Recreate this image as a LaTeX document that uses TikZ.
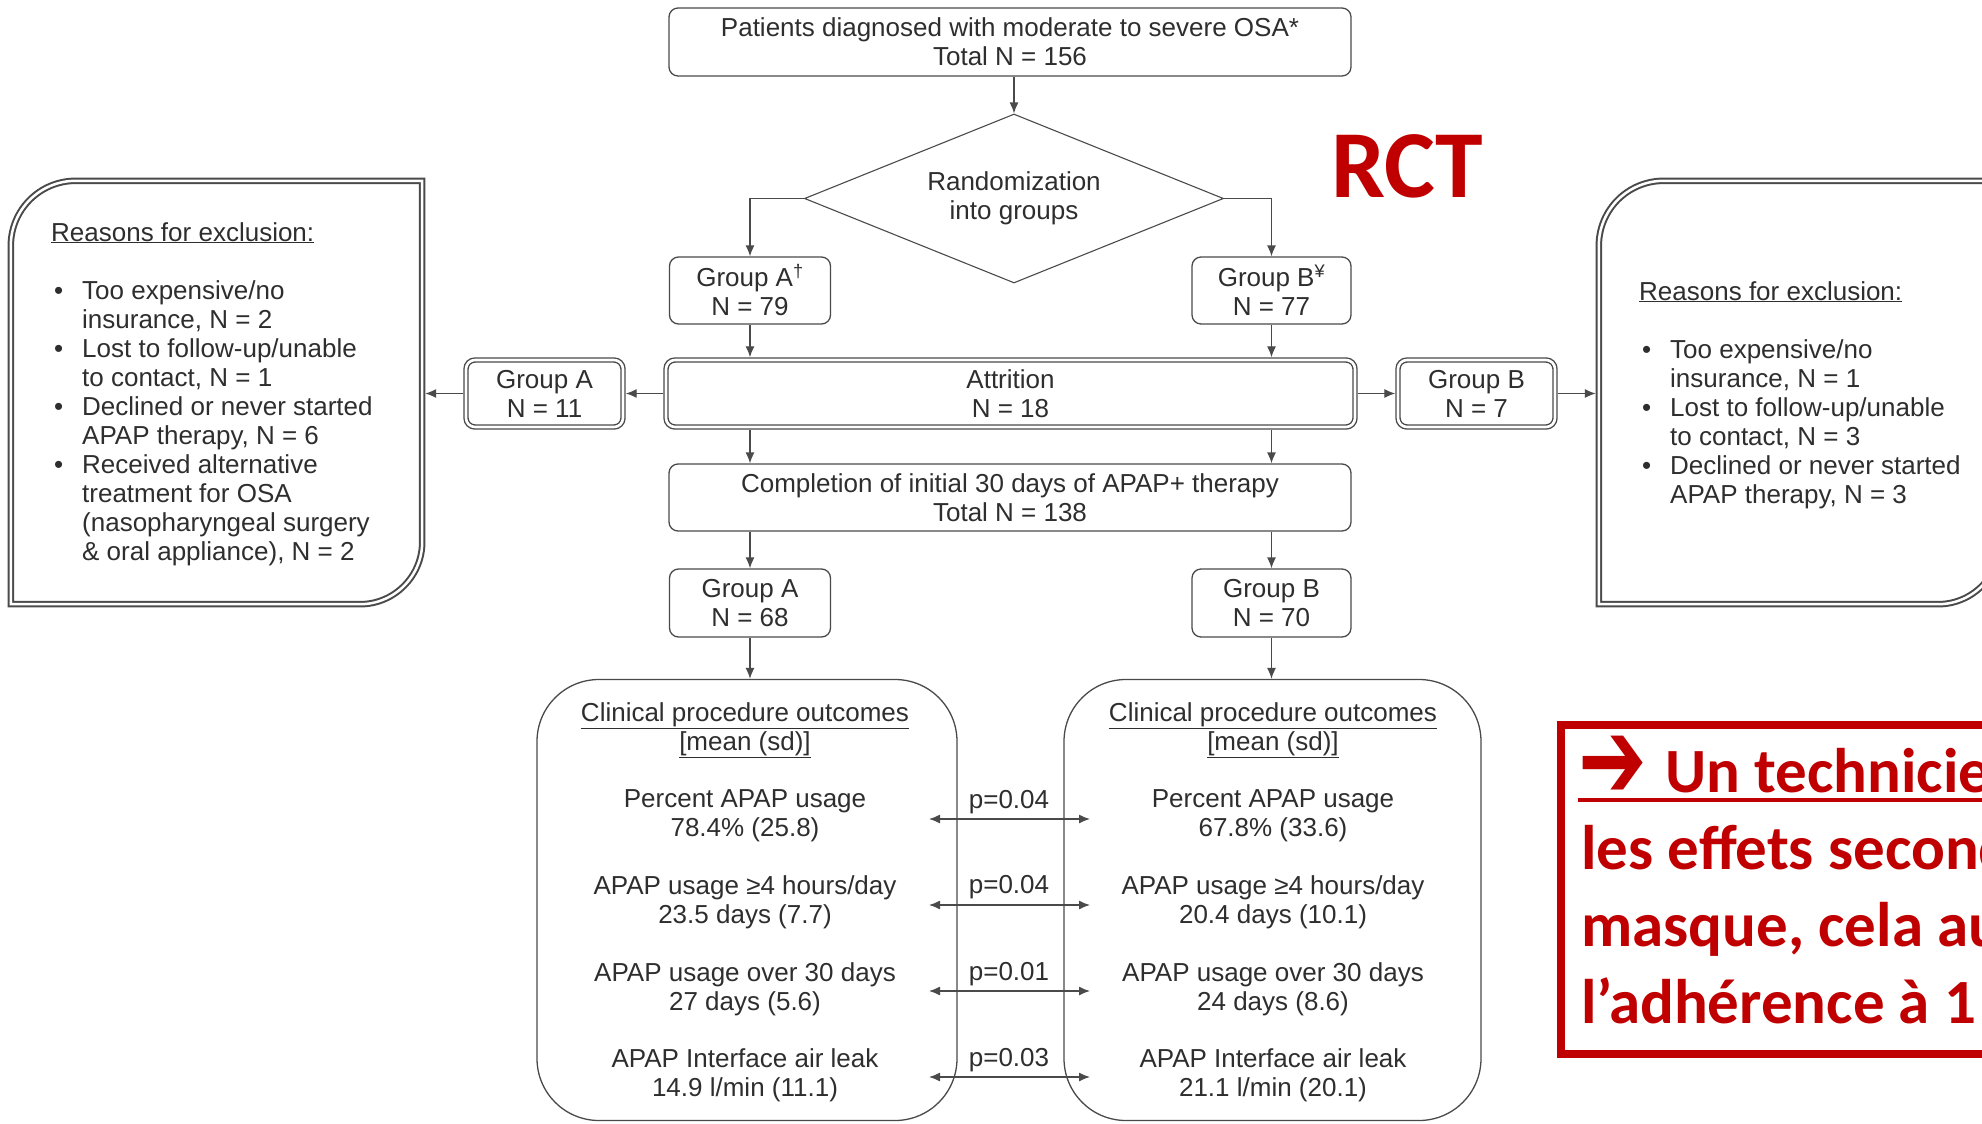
\documentclass[tikz,border=0pt]{standalone}
\usepackage{fontspec}
\setmainfont{Liberation Sans}
\newfontfamily\calib{Carlito}
\newfontfamily\symf{DejaVu Sans}
\usetikzlibrary{shapes.geometric,arrows.meta,calc}
\definecolor{txt}{HTML}{2E2E2E}
\definecolor{ln}{HTML}{4A4A4A}
\definecolor{rd}{HTML}{C00000}
\newcommand\exbul{\makebox[31pt][l]{\hspace{3pt}\textbullet}}
\newcommand\exind{\hspace*{31pt}}
\begin{document}
\begin{tikzpicture}[x=1pt,y=-1pt,
  font=\fontsize{26}{29}\selectfont, text=txt,
  box/.style={draw=ln, line width=1.3pt, rounded corners=9pt, align=center, inner sep=0pt},
  dbox/.style={box, double=white, double distance=2.6pt, line width=1.4pt},
  arr/.style={draw=ln, line width=1.3pt, -{Latex[length=11pt,width=9pt]}},
  darr/.style={draw=ln, line width=1.3pt, {Latex[length=11pt,width=9pt]}-{Latex[length=11pt,width=9pt]}},
  exline/.style={draw=ln, line width=2pt, double=white, double distance=2.5pt},
  plain/.style={inner sep=0pt, align=center},
  lft/.style={inner sep=0pt, align=left, anchor=north west},
  redtxt/.style={text=rd, font=\calib\bfseries\fontsize{63}{77}\selectfont, inner sep=0pt, anchor=base west}
]
\useasboundingbox (0,0) rectangle (1982,1124);
\fill[white] (0,0) rectangle (1982,1124);
\clip (0,0) rectangle (1982,1124);

% main flow
\node[box, minimum width=682pt, minimum height=68pt] (top) at (1010,42)
  {Patients diagnosed with moderate to severe OSA*\\Total N = 156};
\node[draw=ln, line width=1.1pt, diamond, aspect=2.48, minimum width=419pt, minimum height=169pt,
  inner sep=0pt, align=center] (dia) at (1014,198.5) {Randomization\\into groups};
\node[box, minimum width=161pt, minimum height=67pt] (gA) at (750,290.5) {Group A\textsuperscript{†}\\N = 79};
\node[box, minimum width=159pt, minimum height=67pt] (gB) at (1271.5,290.5) {Group B\textsuperscript{¥}\\N = 77};
\node[dbox, minimum width=689pt, minimum height=67pt] (attr) at (1010.5,393.5) {Attrition\\N = 18};
\node[dbox, minimum width=157pt, minimum height=67pt] (exA) at (544.5,393.5) {Group A\\N = 11};
\node[dbox, minimum width=157pt, minimum height=67pt] (exB) at (1476.5,393.5) {Group B\\N = 7};
\node[box, minimum width=682pt, minimum height=67pt] (comp) at (1010,497.5)
  {Completion of initial 30 days of APAP+ therapy\\Total N = 138};
\node[box, minimum width=161pt, minimum height=68pt] (gA2) at (750,603) {Group A\\N = 68};
\node[box, minimum width=159pt, minimum height=68pt] (gB2) at (1271.5,603) {Group B\\N = 70};

% outcome boxes
\node[draw=ln, line width=1.3pt, rounded corners=62pt, minimum width=420pt, minimum height=441pt, inner sep=0pt] (outA) at (747,900) {};
\node[draw=ln, line width=1.3pt, rounded corners=62pt, minimum width=417pt, minimum height=441pt, inner sep=0pt] (outB) at (1272.5,900) {};

\node[plain] (hA) at (745,730) {\underline{Clinical procedure outcomes}\\\underline{[mean (sd)]}};
\node[plain] (hB) at (1273,730) {\underline{Clinical procedure outcomes}\\\underline{[mean (sd)]}};
\node[plain] (a1) at (745,816) {Percent APAP usage\\78.4\% (25.8)};
\node[plain] (a2) at (745,902) {APAP usage ≥4 hours/day\\23.5 days (7.7)};
\node[plain] (a3) at (745,989) {APAP usage over 30 days\\27 days (5.6)};
\node[plain] (a4) at (745,1075) {APAP Interface air leak\\14.9 l/min (11.1)};
\node[plain] (b1) at (1273,816) {Percent APAP usage\\67.8\% (33.6)};
\node[plain] (b2) at (1273,902) {APAP usage ≥4 hours/day\\20.4 days (10.1)};
\node[plain] (b3) at (1273,989) {APAP usage over 30 days\\24 days (8.6)};
\node[plain] (b4) at (1273,1075) {APAP Interface air leak\\21.1 l/min (20.1)};
\node[plain] (p1) at (1009,802) {p=0.04};
\node[plain] (p2) at (1009,887) {p=0.04};
\node[plain] (p3) at (1009,974) {p=0.01};
\node[plain] (p4) at (1009,1060) {p=0.03};
\coordinate (l1) at (929,819);  \coordinate (r1) at (1090,819);
\coordinate (l2) at (929,905);  \coordinate (r2) at (1090,905);
\coordinate (l3) at (929,991);  \coordinate (r3) at (1090,991);
\coordinate (l4) at (929,1077); \coordinate (r4) at (1090,1077);
\draw[darr] (l1) -- (r1);
\draw[darr] (l2) -- (r2);
\draw[darr] (l3) -- (r3);
\draw[darr] (l4) -- (r4);

% exclusion boxes
\node[inner sep=0pt, minimum width=411pt, minimum height=423pt] (exclL) at (216.5,392.5) {};
\node[inner sep=0pt, minimum width=401pt, minimum height=423pt] (exclR) at (1799.5,392.5) {};
\draw[exline] (exclL.south west) -- ($(exclL.north west)+(0,65)$)
  .. controls ($(exclL.north west)+(0,29)$) and ($(exclL.north west)+(29,0)$) .. ($(exclL.north west)+(65,0)$)
  -- (exclL.north east) -- ($(exclL.south east)+(0,-62)$)
  .. controls ($(exclL.south east)+(0,-28)$) and ($(exclL.south east)+(-28,0)$) .. ($(exclL.south east)+(-62,0)$)
  -- cycle;
\draw[exline] (exclR.south west) -- ($(exclR.north west)+(0,65)$)
  .. controls ($(exclR.north west)+(0,29)$) and ($(exclR.north west)+(29,0)$) .. ($(exclR.north west)+(65,0)$)
  -- (exclR.north east) -- ($(exclR.south east)+(0,-62)$)
  .. controls ($(exclR.south east)+(0,-28)$) and ($(exclR.south east)+(-28,0)$) .. ($(exclR.south east)+(-62,0)$)
  -- cycle;

\node[lft] (exLt) at (51,222) {\underline{Reasons for exclusion:}\\[29pt]
  \exbul Too expensive/no\\ \exind insurance, N = 2\\
  \exbul Lost to follow-up/unable\\ \exind to contact, N = 1\\
  \exbul Declined or never started\\ \exind APAP therapy, N = 6\\
  \exbul Received alternative\\ \exind treatment for OSA\\
  \exind (nasopharyngeal surgery\\ \exind \& oral appliance), N = 2};
\node[lft] (exRt) at (1639,281) {\underline{Reasons for exclusion:}\\[29pt]
  \exbul Too expensive/no\\ \exind insurance, N = 1\\
  \exbul Lost to follow-up/unable\\ \exind to contact, N = 3\\
  \exbul Declined or never started\\ \exind APAP therapy, N = 3};

% connectors
\draw[arr] (top.south -| dia.north) -- (dia.north);
\draw[arr] (dia.west) -| (gA.north);
\draw[arr] (dia.east) -| (gB.north);
\draw[arr, shorten >=2pt] (gA.south) -- (gA.south |- attr.north);
\draw[arr, shorten >=2pt] (gB.south) -- (gB.south |- attr.north);
\draw[arr, shorten <=2pt] (attr.south -| gA.south) -- (comp.north -| gA.south);
\draw[arr, shorten <=2pt] (attr.south -| gB.south) -- (comp.north -| gB.south);
\draw[arr] (comp.south -| gA2.north) -- (gA2.north);
\draw[arr] (comp.south -| gB2.north) -- (gB2.north);
\draw[arr] (gA2.south) -- (gA2.south |- outA.north);
\draw[arr] (gB2.south) -- (gB2.south |- outB.north);
\draw[arr, shorten <=2pt, shorten >=2pt] (attr.west) -- (exA.east);
\draw[arr, shorten <=2pt, shorten >=3pt] (exA.west) -- (exA.west -| exclL.east);
\draw[arr, shorten <=2pt, shorten >=2pt] (attr.east) -- (exB.west);
\draw[arr, shorten <=2pt, shorten >=3pt] (exB.east) -- (exB.east -| exclR.west);

% red annotations
\node[anchor=base west, text=rd, font=\calib\bfseries\fontsize{96}{96}\selectfont, inner sep=0pt] (rct) at (1331,197) {RCT};
\node[draw=rd, line width=8pt, anchor=north west, minimum width=600pt, minimum height=329pt, inner sep=0pt] (redbox) at (1557,721) {};
\node[text=rd, font=\symf\bfseries\fontsize{78}{78}\selectfont, inner sep=0pt] (rarrow) at (1613,767.5) {\scalebox{1.05}[1.45]{➔}};
\node[redtxt] (rt1) at (1665,792) {Un technicien};
\node[redtxt] (rt2) at (1581,869) {les effets secondaires};
\node[redtxt] (rt3) at (1581,946) {masque, cela augmente};
\node[redtxt] (rt4) at (1581,1023) {l’adhérence à 1};
\draw[rd, line width=3.5pt] (1578,800) -- (2000,800);
\end{tikzpicture}
\end{document}
